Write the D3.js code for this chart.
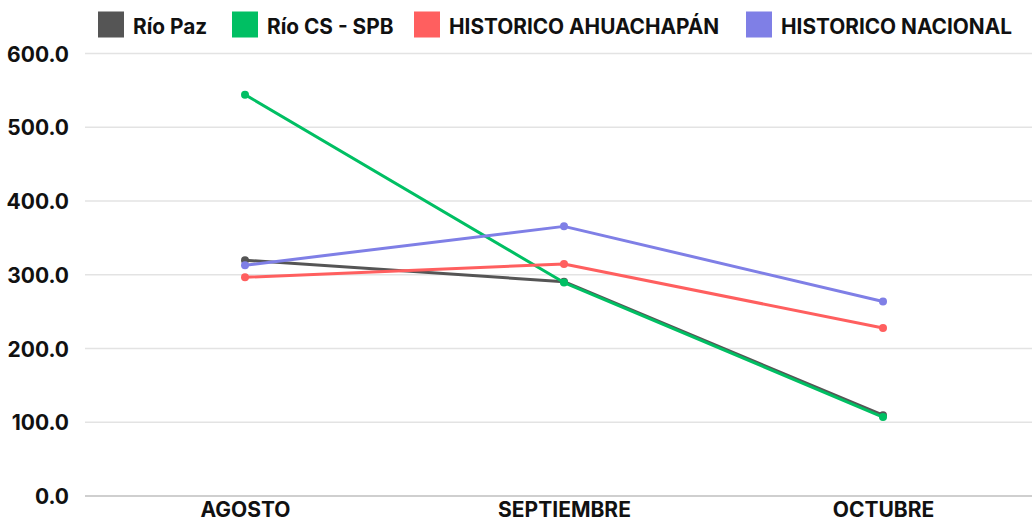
<!DOCTYPE html>
<html><head><meta charset="utf-8">
<script src="https://cdn.jsdelivr.net/npm/d3@7"></script>
<style>
html,body{margin:0;padding:0;background:#fff;}
svg{display:block;font-family:Inter, "Noto Sans", sans-serif;font-weight:700;}
</style></head>
<body><svg id="c" width="1032" height="524"></svg>
<script>
const months = ["AGOSTO", "SEPTIEMBRE", "OCTUBRE"];
const seriesNames = ["Río Paz", "Río CS - SPB", "HISTORICO AHUACHAPÁN", "HISTORICO NACIONAL"];
const rioPaz = [319.7, 290.5, 109.5];
const rioCS = [544.2, 289.4, 107.1];
const histAhuachapan = [296.6, 314.6, 227.8];
const histNacional = [312.9, 365.6, 263.8];
const seriesColors = ["#555555", "#00bf63", "#ff5f5f", "#7f7fe6"];
const yTicks = [0, 100, 200, 300, 400, 500, 600];

const seriesValues = [rioPaz, rioCS, histAhuachapan, histNacional];
const svg = d3.select("#c");
const x = d3.scalePoint().domain(months).range([85.5, 1042.5]).padding(0.5);
const y = d3.scaleLinear().domain([0, 600]).range([496, 53.5]);

// grid
svg.append("g").selectAll("line").data(yTicks).join("line")
  .attr("x1", 85).attr("x2", 1032)
  .attr("y1", d => y(d)).attr("y2", d => y(d))
  .attr("stroke", d => d === 0 ? "#cfcfcf" : "#e3e3e3")
  .attr("stroke-width", d => d === 0 ? 2 : 1.5);

// y axis labels
const yAxis = d3.axisLeft(y).tickValues(yTicks).tickFormat(d3.format(".1f")).tickSize(0).tickPadding(0);
const ya = svg.append("g").attr("transform", "translate(69,0)").call(yAxis);
ya.select(".domain").remove();
ya.selectAll("text").attr("font-size", 21).attr("font-family", "Inter").attr("font-weight", 700).attr("fill", "#111").attr("dy", "0.36em");

// x axis labels
const xAxis = d3.axisBottom(x).tickSize(0).tickPadding(0);
const xa = svg.append("g").attr("transform", "translate(0,502)").call(xAxis);
xa.select(".domain").remove();
xa.selectAll("text").attr("font-size", 21).attr("font-family", "Inter").attr("font-weight", 700).attr("fill", "#111").attr("dy", "0.73em");

// lines
const line = d3.line().x((d, i) => x(months[i])).y(d => y(d));
seriesValues.forEach((vals, si) => {
  const g = svg.append("g");
  g.append("path").datum(vals).attr("d", line).attr("fill", "none")
    .attr("stroke", seriesColors[si]).attr("stroke-width", 3).attr("stroke-linejoin", "round");
  g.selectAll("circle").data(vals).join("circle")
    .attr("cx", (d, i) => x(months[i])).attr("cy", d => y(d)).attr("r", 4)
    .attr("fill", seriesColors[si]);
});

// legend
const legendX = [98, 232, 414, 746];
const lg = svg.append("g");
seriesNames.forEach((n, i) => {
  lg.append("rect").attr("x", legendX[i]).attr("y", 11.5).attr("width", 26).attr("height", 26)
    .attr("fill", seriesColors[i]);
  lg.append("text").attr("x", legendX[i] + 35).attr("y", 33.5).attr("font-size", 20.8)
    .attr("font-family", "Inter").attr("font-weight", 700).attr("fill", "#111").text(n);
});
</script></body></html>
